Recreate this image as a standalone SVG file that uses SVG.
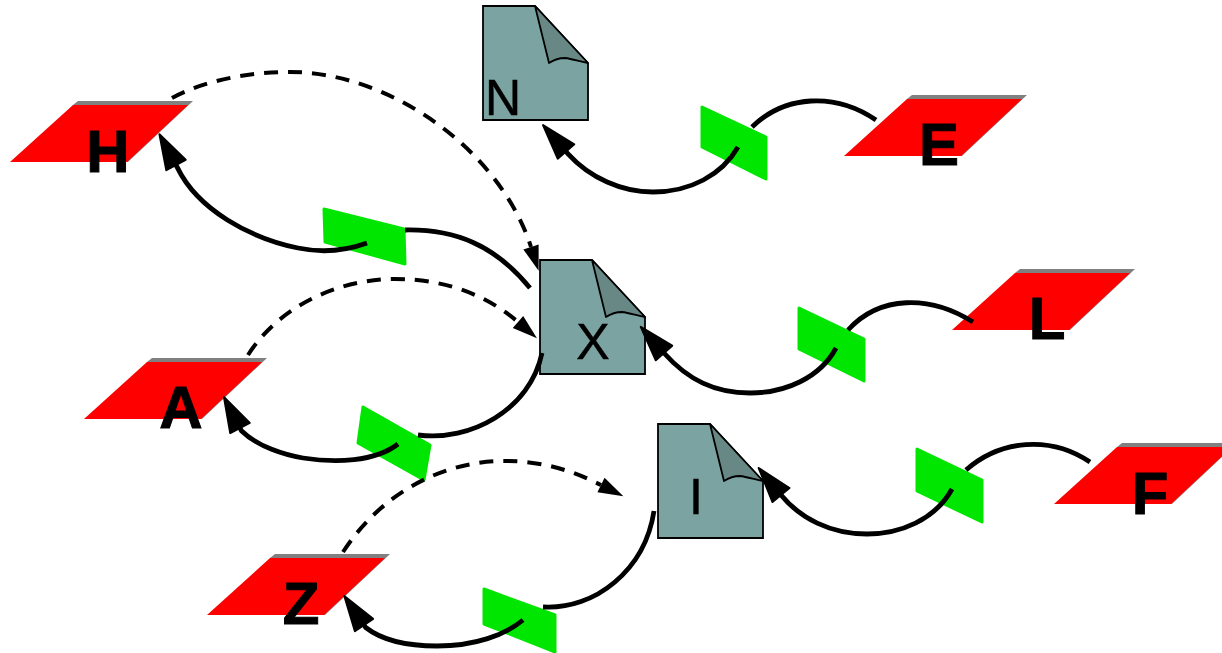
<svg xmlns="http://www.w3.org/2000/svg" xmlns:xlink="http://www.w3.org/1999/xlink" width="1222" height="653" viewBox="0 0 1222 653">
<style>
.bg{fill:#fff}
.doc{fill:#7ba3a2;stroke:#000;stroke-width:1.8}
.fold{fill:#688885;stroke:#000;stroke-width:1.8;stroke-linejoin:round}
.red{fill:#f00}
.grey{fill:#808080}
.grn{fill:#00e600;stroke:#00e600;stroke-width:3;stroke-linejoin:round}
.lb{font-family:"Liberation Sans",Arial,sans-serif;font-weight:700;font-size:60px;text-anchor:middle;fill:#000;stroke:#000;stroke-width:1}
.ld{font-family:"Liberation Sans",Arial,sans-serif;font-size:50px;text-anchor:middle;fill:#000;stroke:#000;stroke-width:.5}
.s{fill:none;stroke:#000;stroke-width:4.8}
.a{marker-end:url(#big)}
.d{fill:none;stroke:#000;stroke-width:4;stroke-dasharray:14 10;marker-end:url(#small)}
</style>
<defs>
<marker id="big" markerUnits="userSpaceOnUse" markerWidth="42" markerHeight="30" refX="2" refY="15" orient="auto"><path d="M2,4 L37,15 L2,26 Z" fill="#000" stroke="#000" stroke-width="2" stroke-linejoin="round"/></marker>
<marker id="small" markerUnits="userSpaceOnUse" markerWidth="30" markerHeight="20" refX="1" refY="10" orient="auto"><path d="M1,2 L26,10 L1,18 Z" fill="#000"/></marker>
<g id="doc"><path class="doc" d="M0,0 H52 L105,57 V114 H0 Z"/><path class="fold" d="M52,0 L66,57 C72,53 76,52 82,52 C90,53 98,56 105,57 Z"/></g>
<g id="pl"><path class="grey" d="M63,-57 L68,-61 L183,-61 L118,0 L117,0 Z"/><path class="red" d="M0,0 L117,0 L178,-57 L63,-57 Z"/></g>
</defs>
<rect class="bg" width="1222" height="653"/>
<g id="nodes">
<g id="node-N"><use xlink:href="#doc" href="#doc" x="483" y="6"/><text class="ld" x="503" y="115">N</text></g>
<g id="node-X"><use xlink:href="#doc" href="#doc" x="540" y="260"/><text class="ld" x="593" y="359">X</text></g>
<g id="node-I"><use xlink:href="#doc" href="#doc" x="658" y="424"/><text class="ld" x="696" y="514">I</text></g>
<g id="node-H"><use xlink:href="#pl" href="#pl" x="10" y="162"/><text class="lb" x="108" y="172">H</text></g>
<g id="node-A"><use xlink:href="#pl" href="#pl" x="84" y="419"/><text class="lb" x="181" y="428">A</text></g>
<g id="node-Z"><use xlink:href="#pl" href="#pl" x="207" y="615"/><text class="lb" x="301" y="624">Z</text></g>
<g id="node-E"><use xlink:href="#pl" href="#pl" x="844" y="156"/><text class="lb" x="939" y="165">E</text></g>
<g id="node-L"><use xlink:href="#pl" href="#pl" x="952" y="330"/><text class="lb" x="1047" y="339">L</text></g>
<g id="node-F"><use xlink:href="#pl" href="#pl" x="1054" y="504"/><text class="lb" x="1150" y="514">F</text></g>
<g id="proc-EN"><path class="grn" d="M702,107 L766,137 L766,179 L702,147 Z"/></g>
<g id="proc-HX"><path class="grn" d="M324,209 L404,229 L405,264 L325,242 Z"/></g>
<g id="proc-LX"><path class="grn" d="M799,308 L864,339 L864,381 L799,349 Z"/></g>
<g id="proc-AX"><path class="grn" d="M363,407 L430,445 L424,480 L358,443 Z"/></g>
<g id="proc-FI"><path class="grn" d="M917,449 L982,480 L982,522 L917,491 Z"/></g>
<g id="proc-ZI"><path class="grn" d="M484,589 L555,615 L555,652 L484,624 Z"/></g>
</g>
<g id="connectors">
<path class="s" d="M876,120 C835,92 785,95 752,127"/>
<path class="s a" d="M738,147 C722,175 690,192 653,192 C622,192 590,178 568,153.8 L566,151.5"/>
<path class="s" d="M530,288 C495,245 455,229 405,230"/>
<path class="s a" d="M367,243 C345,251 322,253 298,248 C250,238 198,210 177.4,167.6 L176,165"/>
<path class="s" d="M973,322 C930,295 880,295 848,330"/>
<path class="s a" d="M836,348 C820,378 785,393 750,393 C715,393 688,380 664,353"/>
<path class="s" d="M542,353 C530,410 470,442 418,435"/>
<path class="s a" d="M398,444 C375,462 335,463 303,458 C285,455 258,447 241.4,430.7 L240,428"/>
<path class="s" d="M1090,462 C1050,435 1000,440 966,470"/>
<path class="s a" d="M952,489 C935,520 900,534 867,534 C830,534 800,518 781,495"/>
<path class="s" d="M654,511 C645,570 595,610 543,607"/>
<path class="s a" d="M523,620 C505,635 475,646 437,646 C410,646 383,641 365.7,627.5 L364,625"/>
<path class="d" d="M172,98 C205,80 250,72 290,72 C390,72 500,150 531,247"/>
<path class="d" d="M248,355 C280,305 340,279 395,279 C450,279 490,298 518,322"/>
<path class="d" d="M343,552 C380,495 440,461 505,461 C545,461 575,472 601,485"/>
</g>
</svg>
